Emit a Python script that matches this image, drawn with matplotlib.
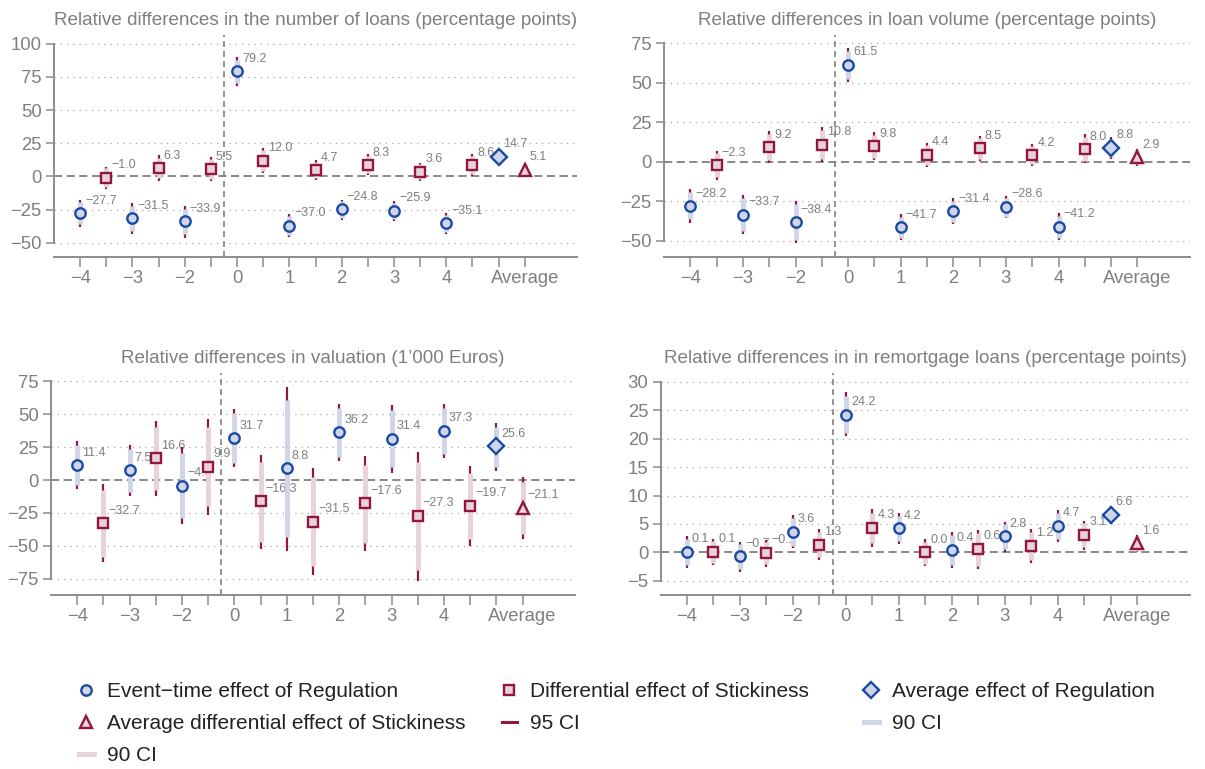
import matplotlib
matplotlib.use("Agg")
import matplotlib.pyplot as plt
from matplotlib.lines import Line2D

plt.rcParams['font.family'] = ['Liberation Sans', 'DejaVu Sans']

# Event times on the x axis
event_times = [-4, -3, -2, 0, 1, 2, 3, 4]
tick_labels = ['\u22124', '\u22123', '\u22122', '0', '1', '2', '3', '4']

# Number of loans
loans_reg = [-27.7, -31.5, -33.9, 79.2, -37.0, -24.8, -25.9, -35.1]
loans_stick = [-1.0, 6.3, 5.5, 12.0, 4.7, 8.3, 3.6, 8.6]
loans_avg = [14.7, 5.1]
loans_reg_ci95 = [(-38.0, -17.5), (-43.0, -20.0), (-46.0, -22.5), (68.0, 90.0),
                  (-45.5, -28.5), (-32.5, -17.5), (-33.5, -18.5), (-43.0, -27.5)]
loans_reg_ci90 = [(-36.0, -19.5), (-41.0, -22.0), (-43.5, -24.5), (70.0, 88.0),
                  (-44.0, -30.0), (-31.0, -18.5), (-32.0, -20.0), (-41.5, -29.0)]
loans_stick_ci95 = [(-9.5, 7.5), (-3.5, 16.0), (-3.5, 14.5), (2.5, 21.5),
                    (-3.0, 12.5), (1.0, 17.0), (-3.5, 10.5), (0.0, 17.0)]
loans_stick_ci90 = [(-8.0, 6.0), (-1.5, 14.0), (-2.0, 13.0), (4.0, 20.0),
                    (-1.5, 11.0), (2.5, 15.5), (-2.0, 9.5), (1.5, 15.5)]
loans_avg_ci95 = [(9.5, 20.0), (0.2, 10.0)]
loans_avg_ci90 = [(10.5, 19.0), (1.0, 9.2)]

# Loan volume
volume_reg = [-28.2, -33.7, -38.4, 61.5, -41.7, -31.4, -28.6, -41.2]
volume_stick = [-2.3, 9.2, 10.8, 9.8, 4.4, 8.5, 4.2, 8.0]
volume_avg = [8.8, 2.9]
volume_reg_ci95 = [(-38.7, -17.5), (-46.0, -21.0), (-51.8, -24.7), (50.7, 71.8),
                   (-49.7, -33.4), (-39.5, -23.2), (-36.0, -21.5), (-49.7, -32.7)]
volume_reg_ci90 = [(-36.5, -19.5), (-44.0, -23.0), (-49.5, -27.0), (52.5, 70.0),
                   (-48.3, -35.0), (-38.0, -24.7), (-34.8, -22.8), (-48.2, -34.2)]
volume_stick_ci95 = [(-11.6, 7.0), (-1.0, 19.6), (0.0, 21.8), (1.0, 18.6),
                     (-3.6, 12.0), (0.6, 16.5), (-2.5, 11.2), (-1.0, 17.3)]
volume_stick_ci90 = [(-10.0, 5.4), (0.8, 17.8), (1.8, 20.0), (2.5, 17.1),
                     (-2.3, 10.8), (2.0, 15.1), (-1.3, 10.0), (0.5, 15.7)]
volume_avg_ci95 = [(2.0, 15.8), (-2.5, 8.0)]
volume_avg_ci90 = [(3.2, 14.6), (-1.6, 7.2)]

# Valuation (1'000 Euros)
value_reg = [11.4, 7.5, -4.5, 31.7, 8.8, 36.2, 31.4, 37.3]
value_stick = [-32.7, 16.6, 9.9, -16.3, -31.5, -17.6, -27.3, -19.7]
value_avg = [25.6, -21.1]
value_reg_ci95 = [(-7.1, 29.9), (-11.9, 26.6), (-33.7, 24.8), (9.6, 53.9),
                  (-53.7, 70.9), (14.4, 57.7), (5.6, 57.0), (16.5, 57.7)]
value_reg_ci90 = [(-3.8, 26.6), (-8.9, 23.5), (-28.6, 20.8), (12.7, 50.6),
                  (-43.5, 60.8), (17.7, 54.4), (10.1, 53.2), (19.7, 54.4)]
value_stick_ci95 = [(-62.5, -3.3), (-11.9, 45.0), (-26.6, 46.0), (-52.4, 19.0),
                    (-72.2, 8.9), (-53.7, 18.2), (-76.7, 21.5), (-50.1, 10.6)]
value_stick_ci90 = [(-58.2, -7.6), (-7.6, 40.5), (-20.0, 40.0), (-46.8, 13.9),
                    (-65.0, 2.5), (-47.6, 11.4), (-68.4, 13.9), (-45.0, 5.1)]
value_avg_ci95 = [(7.1, 43.5), (-45.0, 2.5)]
value_avg_ci90 = [(10.1, 40.5), (-41.0, -1.3)]

# Remortgage loans
remort_reg = [0.1, -0.7, 3.6, 24.2, 4.2, 0.4, 2.8, 4.7]
remort_stick = [0.1, -0.1, 1.3, 4.3, 0.0, 0.6, 1.2, 3.1]
remort_avg = [6.6, 1.6]
remort_reg_ci95 = [(-2.7, 2.9), (-3.5, 1.9), (0.7, 6.6), (20.4, 28.2),
                   (1.5, 6.9), (-2.8, 3.5), (0.1, 5.4), (1.9, 7.4)]
remort_reg_ci90 = [(-2.2, 2.4), (-3.0, 1.5), (1.2, 6.1), (21.0, 27.5),
                   (2.0, 6.4), (-2.2, 3.0), (0.6, 5.0), (2.4, 7.0)]
remort_stick_ci95 = [(-2.2, 2.4), (-2.5, 2.2), (-1.4, 4.1), (1.0, 7.6),
                     (-2.4, 2.3), (-3.0, 3.9), (-1.8, 4.1), (0.5, 5.5)]
remort_stick_ci90 = [(-1.8, 2.0), (-2.0, 1.8), (-0.9, 3.6), (1.6, 7.0),
                     (-2.0, 1.9), (-2.4, 3.4), (-1.3, 3.6), (0.9, 5.1)]
remort_avg_ci95 = [(5.0, 8.2), (0.0, 3.1)]
remort_avg_ci90 = [(5.3, 7.9), (0.3, 2.8)]

BLUE = '#1a4aa5'
RED = '#93163f'
BLUE_FILL = '#d0d6e7'
RED_FILL = '#e7d3d8'
GRAY = '#7f7f7f'
AXIS = '#8c8c8c'

W, H = 1205, 769
fig = plt.figure(figsize=(W / 100, H / 100), dpi=100)


def fmt(v):
    return f'{v:.1f}'.replace('-', '\u2212')


def draw_point(ax, x, y, ci95, ci90, marker, edge, fill, band, ms):
    ax.plot([x, x], ci95, color=RED, lw=1.6, solid_capstyle='butt', zorder=3)
    ax.plot([x, x], ci90, color=band, lw=3.6, solid_capstyle='butt', zorder=3.5)
    ax.plot(x, y, marker=marker, ms=ms, mec=edge, mfc=fill, mew=1.7,
            ls='none', zorder=5)
    ax.annotate(fmt(y), (x, y), xytext=(3.6, 9), textcoords='offset points',
                ha='left', va='center', fontsize=9, color=GRAY, zorder=1)


def panel(box, title, reg, stick, avg, reg95, reg90, st95, st90, avg95, avg90,
          yticks, ylim):
    l, r, t, b = box
    ax = fig.add_axes([l / W, 1 - b / H, (r - l) / W, (b - t) / H])
    for i in range(len(event_times)):
        draw_point(ax, 2 * i, reg[i], reg95[i], reg90[i], 'o', BLUE,
                   BLUE_FILL, BLUE_FILL, 7.5)
        draw_point(ax, 2 * i + 1, stick[i], st95[i], st90[i], 's', RED,
                   RED_FILL, RED_FILL, 7.3)
    n = 2 * len(event_times)
    draw_point(ax, n, avg[0], avg95[0], avg90[0], 'D', BLUE, BLUE_FILL,
               BLUE_FILL, 8.5)
    draw_point(ax, n + 1, avg[1], avg95[1], avg90[1], '^', RED, RED_FILL,
               RED_FILL, 9)

    ax.axhline(0, color=GRAY, lw=1.3, ls=(0, (4.5, 2.5)), zorder=2)
    ax.axvline(5.5, color=GRAY, lw=1.2, ls=(0, (3.5, 2.5)), zorder=2)
    for yv in yticks:
        if yv != 0:
            ax.axhline(yv, color='#a8a8a8', lw=0.9, ls=(0, (1, 4)), zorder=0)

    ax.set_xlim(-1, 19)
    ax.set_ylim(*ylim)
    ax.set_xticks(range(n + 2))
    ax.set_xticklabels([tick_labels[i // 2] if i % 2 == 0 and i < n else ''
                        for i in range(n + 1)] + ['Average'])
    ax.set_yticks(yticks)
    ax.set_yticklabels([fmt(v)[:-2] for v in yticks])

    for side in ['top', 'right']:
        ax.spines[side].set_visible(False)
    ax.spines['left'].set_bounds(yticks[0], yticks[-1])
    for side in ['left', 'bottom']:
        ax.spines[side].set_color(AXIS)
        ax.spines[side].set_linewidth(1.4)
    ax.tick_params(axis='x', length=7.5, width=1.1, color=AXIS, pad=2,
                   labelsize=13.3, labelcolor=GRAY)
    ax.tick_params(axis='y', length=5.8, width=1.1, color=AXIS, pad=3,
                   labelsize=13.3, labelcolor=GRAY)
    ax.set_title(title, fontsize=13.6, color=GRAY, pad=7)
    return ax


panel((54, 577, 35, 256.7),
      'Relative differences in the number of loans (percentage points)',
      loans_reg, loans_stick, loans_avg, loans_reg_ci95, loans_reg_ci90,
      loans_stick_ci95, loans_stick_ci90, loans_avg_ci95, loans_avg_ci90,
      list(range(-50, 101, 25)), (-60.4, 106.5))
panel((664, 1190, 35, 257.3),
      'Relative differences in loan volume (percentage points)',
      volume_reg, volume_stick, volume_avg, volume_reg_ci95, volume_reg_ci90,
      volume_stick_ci95, volume_stick_ci90, volume_avg_ci95, volume_avg_ci90,
      list(range(-50, 76, 25)), (-60.6, 80.3))
panel((51, 575, 372.7, 595),
      'Relative differences in valuation (1\u2019000 Euros)',
      value_reg, value_stick, value_avg, value_reg_ci95, value_reg_ci90,
      value_stick_ci95, value_stick_ci90, value_avg_ci95, value_avg_ci90,
      list(range(-75, 76, 25)), (-87.3, 81.5))
panel((660.5, 1190, 372.7, 595),
      'Relative differences in in remortgage loans (percentage points)',
      remort_reg, remort_stick, remort_avg, remort_reg_ci95, remort_reg_ci90,
      remort_stick_ci95, remort_stick_ci90, remort_avg_ci95, remort_avg_ci90,
      list(range(-5, 31, 5)), (-7.5, 31.6))

# Legend, three columns
h_reg = Line2D([], [], marker='o', ms=7.5, mec=BLUE, mfc=BLUE_FILL, mew=1.7, ls='none')
h_stick = Line2D([], [], marker='s', ms=7.3, mec=RED, mfc=RED_FILL, mew=1.7, ls='none')
h_avg_reg = Line2D([], [], marker='D', ms=8.5, mec=BLUE, mfc=BLUE_FILL, mew=1.7, ls='none')
h_avg_stick = Line2D([], [], marker='^', ms=9, mec=RED, mfc=RED_FILL, mew=1.7, ls='none')
h_95 = Line2D([], [], color=RED, lw=2.2)
h_90_blue = Line2D([], [], color=BLUE_FILL, lw=3.6)
h_90_red = Line2D([], [], color=RED_FILL, lw=3.6)

columns = [
    (79, [h_reg, h_avg_stick, h_90_red],
     ['Event\u2212time effect of Regulation',
      'Average differential effect of Stickiness', '90 CI']),
    (502, [h_stick, h_95],
     ['Differential effect of Stickiness', '95 CI']),
    (864, [h_avg_reg, h_90_blue],
     ['Average effect of Regulation', '90 CI']),
]
for x0, handles, labels in columns:
    fig.legend(handles, labels, loc='upper left',
               bbox_to_anchor=(x0 / W, 1 - 682 / H), frameon=False,
               fontsize=15, labelcolor='#222222', handlelength=0.7,
               handletextpad=0.65, labelspacing=0.62, borderpad=0,
               borderaxespad=0)

fig.savefig('out.png', dpi=100, facecolor='white')
